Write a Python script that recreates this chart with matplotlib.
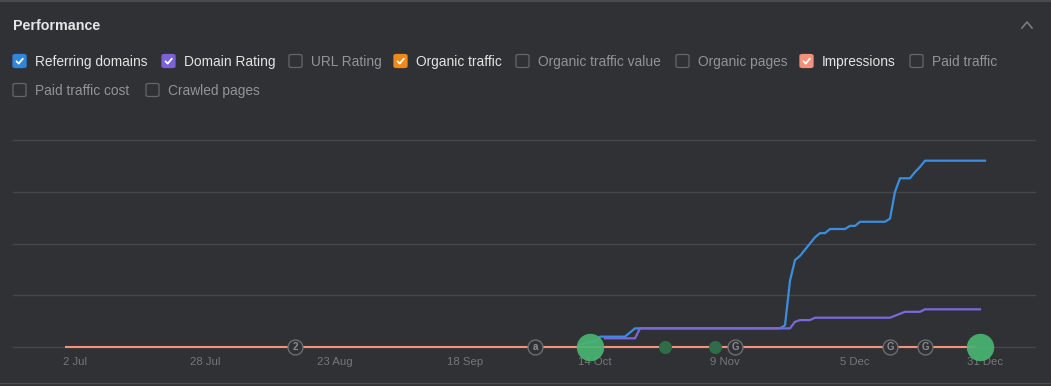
import matplotlib
matplotlib.use("Agg")
import matplotlib.pyplot as plt
import matplotlib.dates as mdates
import pandas as pd
from matplotlib.lines import Line2D
from matplotlib.patches import FancyBboxPatch

plt.rcParams["font.family"] = ["Liberation Sans", "DejaVu Sans"]

W, H = 1051, 386
BG = "#303134"
GRID = "#46474a"

# series (values on an arbitrary shared scale, grid every 50)
ref_dates = ["2023-10-11", "2023-10-13", "2023-10-14", "2023-10-15", "2023-10-20",
             "2023-10-22", "2023-11-20", "2023-11-21", "2023-11-22", "2023-11-23",
             "2023-11-24", "2023-11-27", "2023-11-28", "2023-11-29", "2023-11-30",
             "2023-12-03", "2023-12-04", "2023-12-05", "2023-12-06", "2023-12-11",
             "2023-12-12", "2023-12-13", "2023-12-14", "2023-12-16", "2023-12-17",
             "2023-12-18", "2023-12-19", "2023-12-31"]
ref_values = [2, 5, 5, 10, 10, 18, 18, 21, 64, 84, 88, 106, 110, 110, 114,
              114, 117, 117, 121, 121, 124, 150, 163, 163, 169, 174, 180, 180]

dr_dates = ["2023-10-16", "2023-10-22", "2023-10-23", "2023-11-22", "2023-11-23",
            "2023-11-24", "2023-11-26", "2023-11-27", "2023-12-12", "2023-12-15",
            "2023-12-18", "2023-12-19", "2023-12-30"]
dr_values = [8.4, 8.4, 18, 18, 24.4, 26, 26, 28.3, 28.3, 34, 34, 36.4, 36.4]

imp_dates = ["2023-06-30", "2023-12-29"]
imp_values = [0, 0]

# annotations on the baseline
note_dates = ["2023-08-15", "2023-10-02", "2023-11-11", "2023-12-12", "2023-12-19"]
note_labels = ["2", "a", "G", "G", "G"]
big_dates = ["2023-10-13", "2023-12-30"]
small_dates = ["2023-10-28", "2023-11-07"]

tick_dates = ["2023-07-02", "2023-07-28", "2023-08-23", "2023-09-18",
              "2023-10-14", "2023-11-09", "2023-12-05", "2023-12-31"]

legend_row1 = ["Referring domains", "Domain Rating", "URL Rating", "Organic traffic",
               "Organic traffic value", "Organic pages", "Impressions", "Paid traffic"]
legend_row2 = ["Paid traffic cost", "Crawled pages"]
checked = {"Referring domains": "#2f86dd", "Domain Rating": "#7c62d8",
           "Organic traffic": "#f0891a", "Impressions": "#f3917a"}
box_x1 = [13, 162, 289, 394, 516, 676, 800, 910]
box_x2 = [13, 146]

fig = plt.figure(figsize=(W / 100, H / 100), dpi=100, facecolor=BG)


def fx(x):
    return x / W


def fy(y):
    return 1 - y / H


ax = fig.add_axes([fx(13), fy(347), (1035 - 13) / W, (347 - 140) / H])
ax.set_facecolor(BG)
for s in ax.spines.values():
    s.set_visible(False)

d0 = mdates.date2num(pd.Timestamp("2023-07-02"))
ax.set_xlim(d0 - 12.4, d0 + 192)
ax.set_ylim(0, 200)
ax.set_yticks([])
for g in [0, 50, 100, 150, 200]:
    ax.axhline(g, color=GRID, lw=1.0, zorder=0, clip_on=False)

ax.plot(pd.to_datetime(imp_dates), imp_values, color="#f3917a", lw=1.5, zorder=2,
        solid_capstyle="butt", clip_on=False)
ax.plot(pd.to_datetime(ref_dates), ref_values, color="#3a8ee0", lw=1.6, zorder=3,
        clip_on=False)
ax.plot(pd.to_datetime(dr_dates), dr_values, color="#7b68dc", lw=1.6, zorder=4)

nd = pd.to_datetime(note_dates)
ax.scatter(nd, [0] * len(nd), s=115, facecolor=BG, edgecolor="#6c6d70", lw=1.0,
           zorder=5, clip_on=False)
for d, lab in zip(nd, note_labels):
    ax.text(d, 0, lab, ha="center", va="center", fontsize=7, color="#8c8d90",
            fontweight="bold", zorder=6)
ax.scatter(pd.to_datetime(small_dates), [0, 0], s=70, color="#2f6d48", zorder=5,
           clip_on=False)
ax.scatter(pd.to_datetime(big_dates), [0, 0], s=390, color="#48b572", alpha=0.92,
           lw=0, zorder=7, clip_on=False)

td = pd.to_datetime(tick_dates)
ax.set_xticks(td)
ax.set_xticklabels([f"{d.day} {d:%b}" for d in td])
ax.tick_params(axis="x", length=0, pad=7, labelsize=8.2, labelcolor="#76777a")

# header
fig.text(fx(13), fy(26), "Performance", fontsize=10.3, fontweight="bold",
         color="#e6e6e6", va="center", ha="left")
fig.add_artist(Line2D([fx(1022), fx(1027), fx(1032)], [fy(28), fy(22), fy(28)],
                      color="#7a7b7e", lw=1.2))
fig.add_artist(Line2D([0, 1], [fy(0.5), fy(0.5)], color="#4a4b4e", lw=1.5))
fig.add_artist(Line2D([0, 1], [fy(382.5), fy(382.5)], color="#4a4b4e", lw=1.0))


def checkbox(x, y, label):
    col = checked.get(label)
    box = FancyBboxPatch((fx(x), fy(y + 6.5)), 13 / W, 13 / H,
                         boxstyle="round,pad=0,rounding_size=0.003",
                         transform=fig.transFigure,
                         facecolor=col if col else "none",
                         edgecolor=col if col else "#66676a", lw=0.9)
    fig.add_artist(box)
    if col:
        fig.add_artist(Line2D([fx(x + 3.5), fx(x + 5.7), fx(x + 9.8)],
                              [fy(y + 0.3), fy(y + 2.6), fy(y - 2.3)],
                              color="white", lw=1.3, solid_capstyle="round"))
    fig.text(fx(x + 22), fy(y + 1), label, fontsize=9.9, va="center", ha="left",
             color="#e4e4e4" if col else "#939497")


for x, lab in zip(box_x1, legend_row1):
    checkbox(x, 61, lab)
for x, lab in zip(box_x2, legend_row2):
    checkbox(x, 90, lab)

fig.savefig("out.png", dpi=100, facecolor=BG)
